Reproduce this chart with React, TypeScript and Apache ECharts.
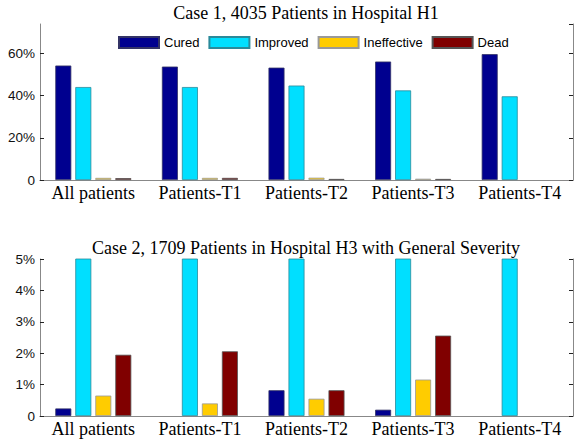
import React, { useEffect, useRef } from "react";
import * as echarts from "echarts";

const categories = ["All patients", "Patients-T1", "Patients-T2", "Patients-T3", "Patients-T4"];
const seriesNames = ["Cured", "Improved", "Ineffective", "Dead"];
const colors = ["#00008f", "#00dfff", "#ffcc00", "#800000"];
const borderColors = ["#333366", "#2a8a9a", "#999999", "#555555"];

// Case 1 (percent)
const case1Cured = [54.3, 53.8, 53.3, 56.2, 59.7];
const case1Improved = [44.1, 44.1, 44.8, 42.5, 39.7];
const case1Ineffective = [1.0, 1.0, 1.1, 0.6, 0];
const case1Dead = [0.9, 1.0, 0.5, 0.5, 0];

// Case 2 (percent)
const case2Cured = [0.24, 0, 0.82, 0.2, 0];
const case2Improved = [97.16, 97.54, 97.81, 96.08, 100];
const case2Ineffective = [0.65, 0.4, 0.55, 1.16, 0];
const case2Dead = [1.95, 2.06, 0.82, 2.56, 0];

const title1 = "Case 1, 4035 Patients in Hospital H1";
const title2 = "Case 2, 1709 Patients in Hospital H3 with General Severity";

const case1 = [case1Cured, case1Improved, case1Ineffective, case1Dead];
const case2 = [case2Cured, case2Improved, case2Ineffective, case2Dead];

export default function App() {
  const ref = useRef<HTMLDivElement>(null);
  useEffect(() => {
    if (!ref.current) return;
    const chart = echarts.init(ref.current, null, { renderer: "svg" });
    const serif = "'Liberation Serif', 'Times New Roman', serif";
    const sans = "'Liberation Sans', Arial, sans-serif";
    const fmt = (v: number) => (v === 0 ? "0" : `${Math.round(v)}%`);
    const xAxisBase = (gridIndex: number) => ({
      type: "category",
      gridIndex,
      data: categories,
      axisLine: { show: true, lineStyle: { color: "#888888", width: 1 } },
      axisTick: { show: false },
      axisLabel: { color: "#000", fontFamily: serif, fontSize: 18, margin: 4, interval: 0, hideOverlap: false },
    });
    const topAxis = (gridIndex: number) => ({
      type: "category",
      gridIndex,
      position: "top",
      data: categories,
      axisLine: { show: true, lineStyle: { color: "#888888", width: 1 } },
      axisTick: { show: false },
      axisLabel: { show: false },
    });
    const yLeft = (gridIndex: number, max: number, interval: number) => ({
      type: "value",
      gridIndex,
      min: 0,
      max,
      interval,
      position: "left",
      axisLine: { show: true, lineStyle: { color: "#888888", width: 1 } },
      axisTick: { show: true, inside: true, length: 4, lineStyle: { color: "#222" } },
      splitLine: { show: false },
      axisLabel: {
        color: "#111",
        fontFamily: sans,
        fontSize: 13.5,
        margin: 5,
        showMaxLabel: max % interval === 0,
        formatter: fmt,
      },
    });
    const yRight = (gridIndex: number, max: number, interval: number) => ({
      type: "value",
      gridIndex,
      min: 0,
      max,
      interval,
      position: "right",
      axisLine: { show: true, lineStyle: { color: "#888888", width: 1 } },
      axisTick: { show: true, inside: true, length: 4, lineStyle: { color: "#222" } },
      splitLine: { show: false },
      axisLabel: { show: false },
    });
    const makeSeries = (data: number[][], xi: number, yi: number) =>
      seriesNames.map((name, i) => ({
        name,
        type: "bar",
        xAxisIndex: xi,
        yAxisIndex: yi,
        data: data[i].map((v) => (v === 0 ? null : v)),
        barWidth: 16,
        barGap: "25%",
        clip: true,
        itemStyle: { color: colors[i], borderColor: borderColors[i], borderWidth: 0.8 },
      }));

    chart.setOption({
      animation: false,
      textStyle: { fontFamily: sans },
      grid: [
        { left: 40, right: 5, top: 24, height: 156 },
        { left: 40, right: 5, top: 259, height: 157 },
      ],
      xAxis: [xAxisBase(0), topAxis(0), xAxisBase(1), topAxis(1)],
      yAxis: [yLeft(0, 74, 20), yRight(0, 74, 20), yLeft(1, 5, 1), yRight(1, 5, 1)],
      legend: {
        data: seriesNames,
        left: 113,
        top: 31,
        itemWidth: 40,
        itemHeight: 11,
        itemGap: 9,
        icon: "rect",
        textStyle: { fontFamily: sans, fontSize: 13, color: "#000" },
      },
      graphic: [
        {
          type: "text",
          x: 306,
          y: 13,
          style: { text: title1, fontFamily: serif, fontSize: 18, fill: "#000", align: "center", verticalAlign: "middle" },
        },
        {
          type: "text",
          x: 306,
          y: 248,
          style: { text: title2, fontFamily: serif, fontSize: 18, fill: "#000", align: "center", verticalAlign: "middle" },
        },
      ],
      series: [...makeSeries(case1, 0, 0), ...makeSeries(case2, 2, 2)],
    });
    return () => chart.dispose();
  }, []);
  return (
    <div
      ref={ref}
      style={{ position: "fixed", left: 0, top: 0, width: 578, height: 440, background: "#fff" }}
    />
  );
}
